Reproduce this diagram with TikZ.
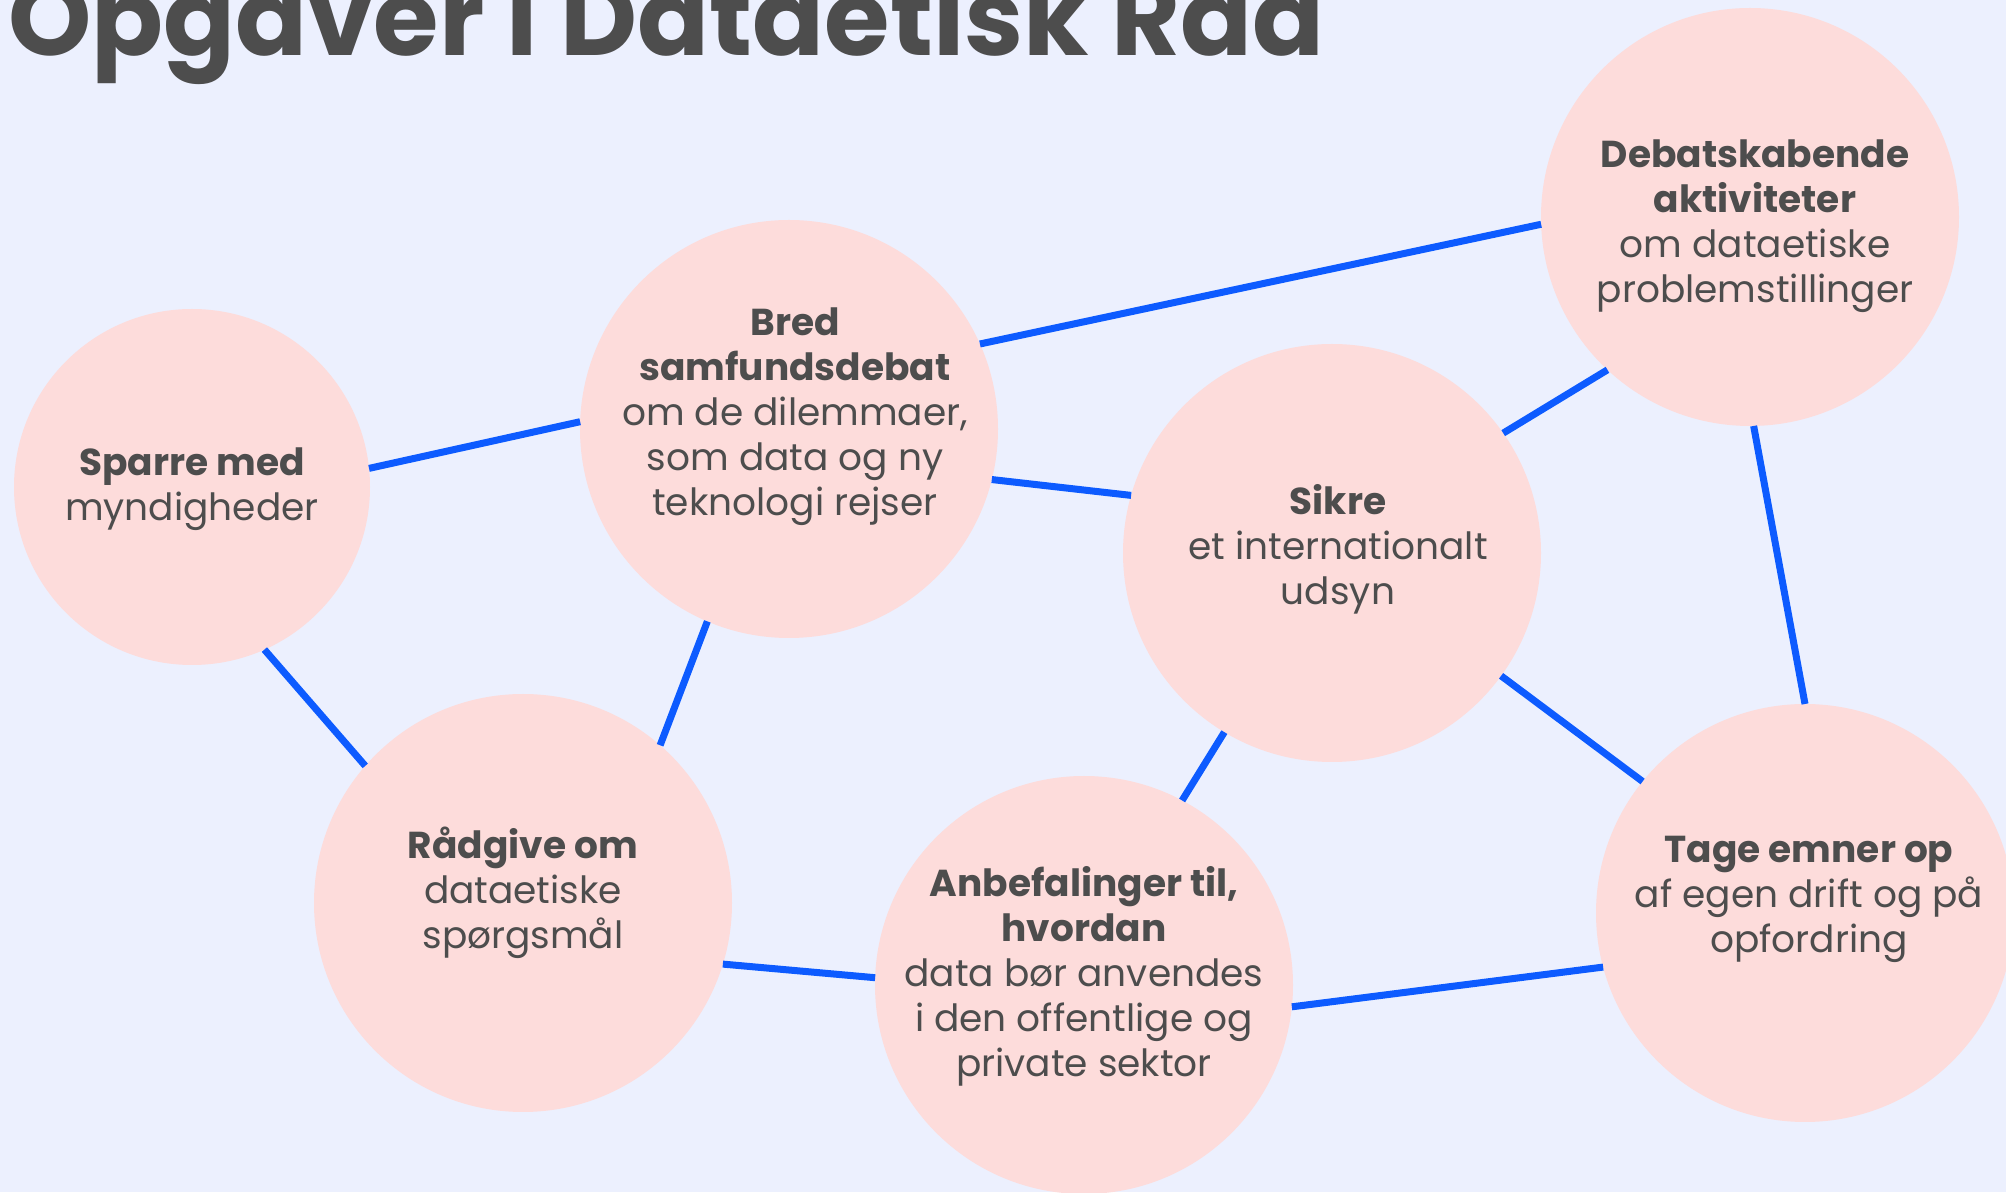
\documentclass[tikz,border=0pt]{standalone}
\usepackage{fontspec}
\setmainfont{Poppins}
\definecolor{bg}{HTML}{ECF0FE}
\definecolor{pinkfill}{HTML}{FDDCDB}
\definecolor{linkblue}{HTML}{0D5BFF}
\definecolor{txt}{HTML}{4D4D4D}
\begin{document}
\begin{tikzpicture}[x=1pt,y=1pt,
  bubble/.style={circle,fill=pinkfill,inner sep=0pt,outer sep=0pt,minimum size=418pt},
  smallbubble/.style={bubble,minimum size=356pt},
  label text/.style={align=center,text=txt,font=\fontsize{37.5}{45}\selectfont,inner sep=0pt},
  link/.style={draw=linkblue,line width=7pt}]
\fill[bg] (0,0) rectangle (2006,1192);
\useasboundingbox (0,0) rectangle (2006,1192);
\node[anchor=base west,inner sep=0pt,text=txt,font=\fontsize{106}{110}\selectfont\bfseries] (title) at (8,1136) {Opgaver i Dataetisk Råd};
\node[smallbubble] (c1) at (192,705) {};
\node[bubble] (c2) at (789,763) {};
\node[bubble] (c3) at (1750,975) {};
\node[bubble] (c4) at (1332,639) {};
\node[bubble] (c5) at (523,289) {};
\node[bubble] (c6) at (1084,207) {};
\node[bubble] (c7) at (1805,279) {};
\draw[link] (c1.6.6) -- (c2.178.3);
\draw[link] (c1.-66.9) -- (c5.139.5);
\draw[link] (c2.-113.6) -- (c5.49);
\draw[link] (c2.24.8) -- (c3.182.1);
\draw[link] (c2.-14.4) -- (c4.164.1);
\draw[link] (c4.35.6) -- (c3.-133.5);
\draw[link] (c4.-121.4) -- (c6.62.6);
\draw[link] (c4.-36.1) -- (c7.141.4);
\draw[link] (c3.-89.5) -- (c7.90.7);
\draw[link] (c5.-17.7) -- (c6.178.6);
\draw[link] (c6.-6.6) -- (c7.195.1);
\node[label text] (t1) at (192,703) {\textbf{Sparre med}\\myndigheder};
\node[label text] (t2) at (795,775) {\textbf{Bred}\\\textbf{samfundsdebat}\\om de dilemmaer,\\som data og ny\\teknologi rejser};
\node[label text] (t3) at (1755,966) {\textbf{Debatskabende}\\\textbf{aktiviteter}\\om dataetiske\\problemstillinger};
\node[label text] (t4) at (1338,643) {\textbf{Sikre}\\et internationalt\\udsyn};
\node[label text] (t5) at (523,299) {\textbf{Rådgive om}\\dataetiske\\spørgsmål};
\node[label text] (t6) at (1084,216) {\textbf{Anbefalinger til,}\\\textbf{hvordan}\\data bør anvendes\\i den offentlige og\\private sektor};
\node[label text] (t7) at (1809,293) {\textbf{Tage emner op}\\af egen drift og på\\opfordring};
\end{tikzpicture}
\end{document}
